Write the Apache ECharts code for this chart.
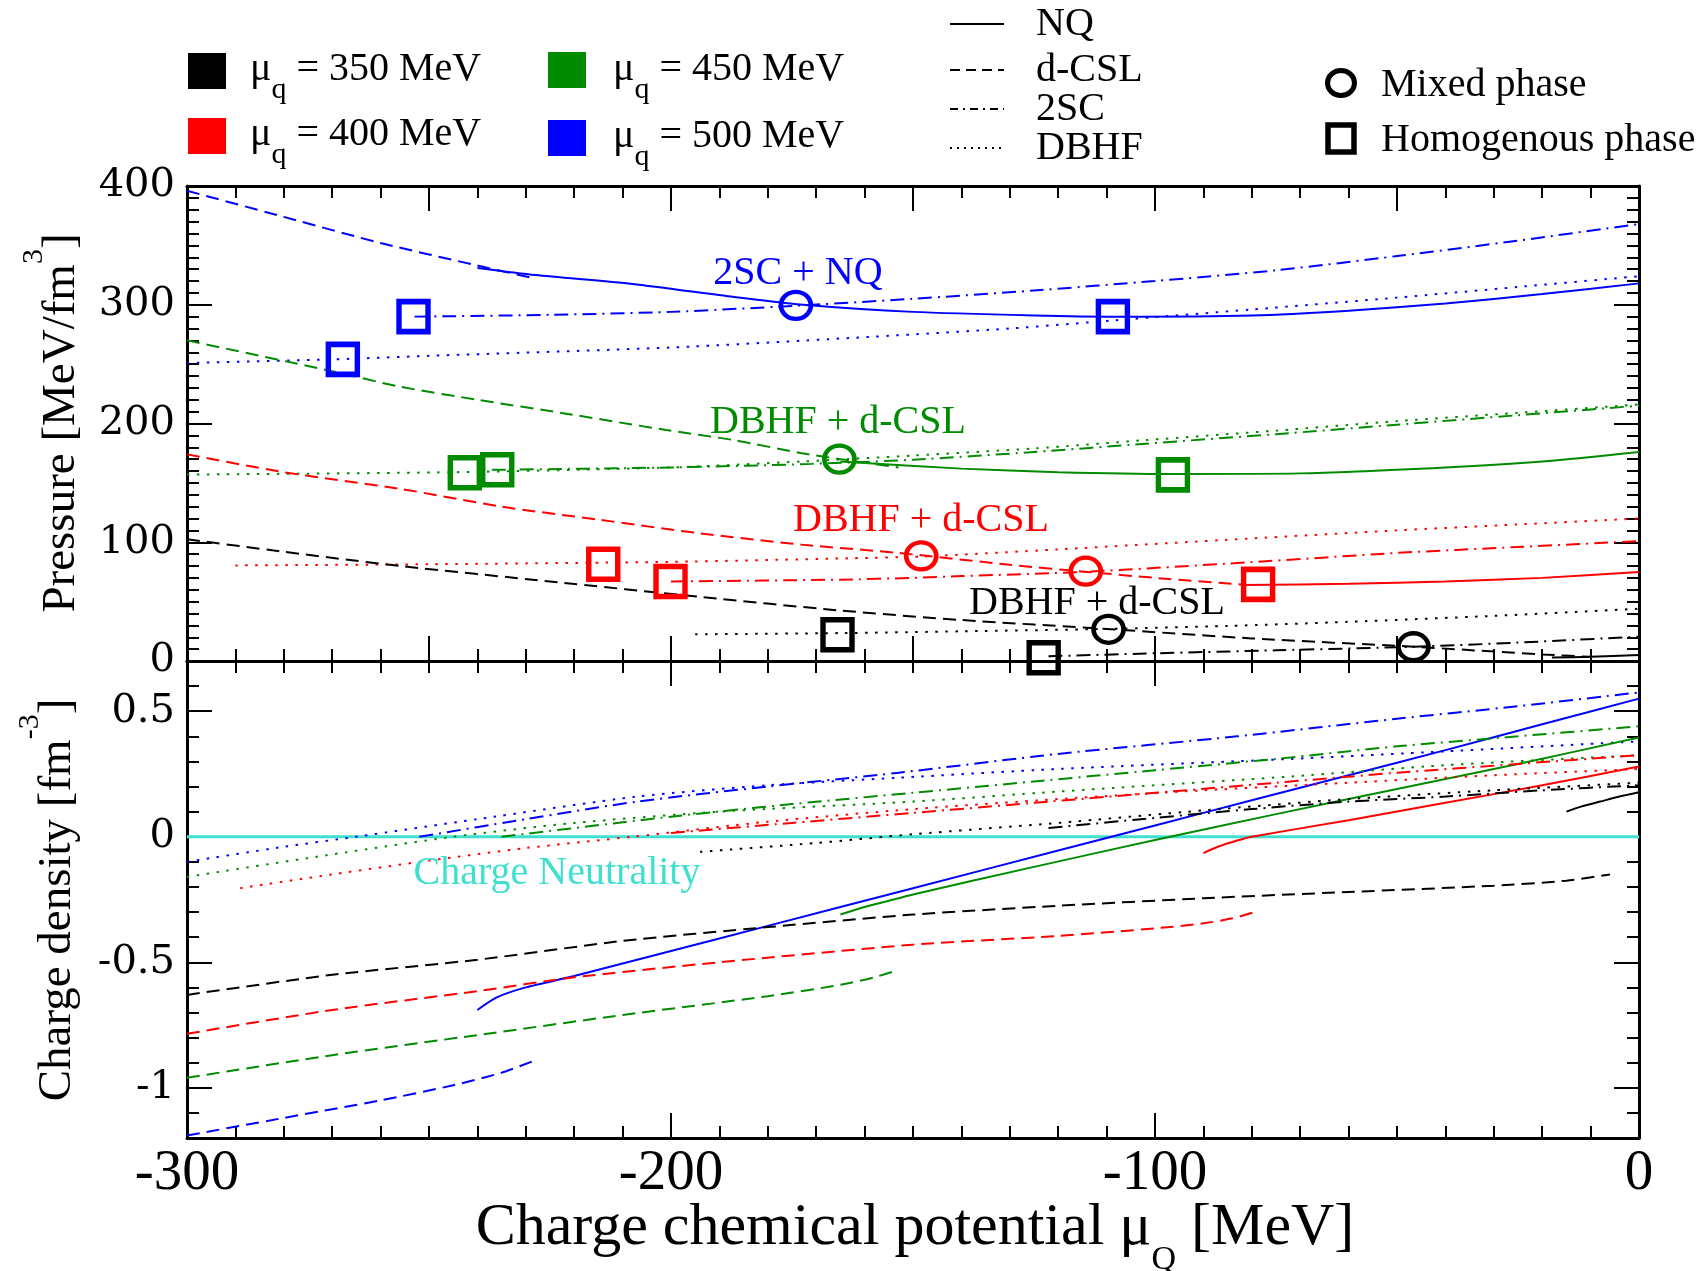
<!DOCTYPE html>
<html>
<head>
<meta charset="utf-8">
<script src="https://cdn.jsdelivr.net/npm/echarts@6/dist/echarts.min.js"></script>
<style>
  html, body { margin: 0; padding: 0; background: #fff; }
  #chart { width: 1708px; height: 1271px; }
</style>
</head>
<body>
<div id="chart"></div>
<script>
// ---------- axis ticks ----------
const xTicks = [-300, -200, -100, 0];
const pTicks = [0, 100, 200, 300, 400];
const qTicks = [-1, -0.5, 0, 0.5];

// ---------- upper panel: pressure [MeV/fm^3] vs mu_Q [MeV] ----------
// mu_q = 500 MeV (blue)
const P500_dCSL = [[-300,396],[-280,374],[-260,352],[-240,333],[-228,322]];
const P500_NQ   = [[-240,331],[-228,325],[-208,317.5],[-187,306.5],[-174,300.5],[-150,294],[-125,291],[-108,290],[-80,291],[-60,295],[-40,301],[-20,309],[0,318]];
const P500_2SC  = [[-253,290],[-225,291.5],[-200,294],[-175,299],[-150,305],[-125,312],[-100,320],[-75,329],[-50,341],[-25,354],[0,368]];
const P500_DBHF = [[-300,251],[-270,254],[-250,257],[-200,264],[-163,272],[-130,280],[-108,287],[-80,296],[-50,306],[-25,315],[0,324]];
// mu_q = 450 MeV (green)
const P450_dCSL = [[-300,270],[-270,244],[-256,231],[-240,220],[-222,208.5],[-201,194.5],[-187,186],[-173,175],[-165,170],[-153,163]];
const P450_NQ   = [[-165,168],[-140,162],[-120,159],[-96,157.5],[-70,158],[-40,163],[-20,168],[0,176]];
const P450_2SC  = [[-237,161],[-200,163],[-171,166],[-150,169.5],[-125,176],[-102,183],[-75,191],[-50,199],[-25,207],[0,215]];
const P450_DBHF = [[-300,157],[-245,159],[-200,163],[-173,168],[-150,173],[-125,179],[-102,186],[-75,194],[-50,202],[-25,209],[0,216]];
// mu_q = 400 MeV (red)
const P400_dCSL = [[-300,174],[-280,159],[-256,145],[-235,130],[-215,119],[-194,107.5],[-173,98],[-153,91],[-130,81],[-114,75],[-100,70],[-81,64]];
const P400_NQ   = [[-82,64],[-60,65],[-40,67],[-20,70],[0,75]];
const P400_2SC  = [[-200,67],[-165,68.5],[-150,70],[-140,71.5],[-115,75],[-81,83],[-50,91],[-25,96],[0,101]];
const P400_DBHF = [[-290,80.5],[-250,81.5],[-200,83.5],[-163,86.5],[-148,88],[-120,94],[-81,103],[-50,110],[-25,115],[0,120]];
// mu_q = 350 MeV (black)
const P350_dCSL = [[-300,102.5],[-280,92],[-256,80],[-225,67],[-194,54],[-165,42.5],[-140,34.5],[-110,27],[-80,19],[-46.5,12],[-20,5.5],[-10,3.5]];
const P350_NQ   = [[-18,3],[-10,3.5],[0,5]];
const P350_2SC  = [[-122,4],[-100,6.5],[-75,9],[-46.5,12],[-25,15.5],[0,20.5]];
const P350_DBHF = [[-195,22.5],[-165,23.5],[-140,25],[-110,27],[-85,29.5],[-60,33],[-30,38],[0,44]];

// phase markers (upper panel)
const mixed500 = [[-174.2,299.5]];
const homog500 = [[-253.2,290],[-267.8,254],[-108.7,290]];
const mixed450 = [[-165.2,170]];
const homog450 = [[-242.6,158.5],[-235.9,161],[-96.3,156.7]];
const mixed400 = [[-148.3,88.5],[-114.3,75.6]];
const homog400 = [[-214,81.5],[-200.1,67],[-78.7,64.5]];
const mixed350 = [[-109.6,26.7],[-46.6,12]];
const homog350 = [[-165.6,22.1],[-123,2.8]];

// ---------- lower panel: charge density [fm^-3] vs mu_Q [MeV] ----------
const Q500_NQ   = [[-240,-0.69],[-236,-0.64],[-230,-0.60],[-220,-0.555],[-200,-0.455],[-180,-0.355],[-150,-0.205],[-120,-0.055],[-100,0.045],[-80,0.145],[-60,0.245],[-40,0.345],[-20,0.448],[0,0.55]];
const Q500_dCSL = [[-300,-1.19],[-280,-1.12],[-260,-1.05],[-245,-0.99],[-235,-0.94],[-228,-0.89]];
const Q500_2SC  = [[-252,0.0],[-230,0.07],[-207,0.14],[-180,0.2],[-153,0.255],[-120,0.33],[-83,0.40],[-50,0.47],[-25,0.52],[0,0.575]];
const Q500_DBHF = [[-300,-0.10],[-280,-0.04],[-265,0.0],[-240,0.07],[-207,0.16],[-180,0.205],[-153,0.235],[-120,0.27],[-72,0.31],[-40,0.34],[0,0.38]];

const Q450_NQ   = [[-165,-0.31],[-160,-0.28],[-155,-0.255],[-150,-0.23],[-125,-0.12],[-100,-0.013],[-75,0.09],[-50,0.19],[-25,0.29],[0,0.395]];
const Q450_dCSL = [[-300,-0.96],[-270,-0.87],[-240,-0.79],[-210,-0.71],[-180,-0.635],[-165,-0.59],[-158,-0.56],[-153,-0.53]];
const Q450_2SC  = [[-235,0.0],[-200,0.08],[-175,0.13],[-150,0.175],[-125,0.22],[-100,0.265],[-75,0.31],[-50,0.36],[-25,0.40],[0,0.44]];
const Q450_DBHF = [[-300,-0.16],[-275,-0.085],[-245,0.0],[-220,0.055],[-190,0.10],[-150,0.14],[-120,0.18],[-72,0.24],[-40,0.285],[0,0.325]];

const Q400_NQ   = [[-90,-0.065],[-87,-0.04],[-83,-0.015],[-80,0.0],[-60,0.066],[-40,0.135],[-20,0.205],[0,0.28]];
const Q400_dCSL = [[-300,-0.785],[-270,-0.69],[-240,-0.615],[-220,-0.56],[-190,-0.50],[-150,-0.43],[-120,-0.395],[-100,-0.365],[-90,-0.345],[-84,-0.325],[-79,-0.298]];
const Q400_2SC  = [[-200,0.015],[-175,0.055],[-150,0.095],[-125,0.135],[-100,0.175],[-75,0.215],[-50,0.255],[-25,0.29],[0,0.325]];
const Q400_DBHF = [[-289,-0.205],[-270,-0.15],[-250,-0.095],[-230,-0.045],[-208,0.0],[-180,0.06],[-150,0.11],[-120,0.15],[-90,0.185],[-60,0.215],[-30,0.245],[0,0.27]];

const Q350_NQ   = [[-15,0.10],[-12,0.12],[-8,0.14],[-4,0.16],[0,0.177]];
const Q350_dCSL = [[-300,-0.63],[-270,-0.55],[-240,-0.49],[-210,-0.415],[-180,-0.36],[-150,-0.31],[-120,-0.275],[-90,-0.245],[-60,-0.22],[-30,-0.195],[-15,-0.175],[-6,-0.15]];
const Q350_2SC  = [[-122,0.035],[-100,0.075],[-80,0.11],[-60,0.14],[-40,0.16],[-20,0.185],[0,0.205]];
const Q350_DBHF = [[-194,-0.06],[-170,-0.025],[-150,0.01],[-120,0.055],[-90,0.105],[-60,0.15],[-30,0.185],[0,0.215]];

const neutrality = [[-300,0],[0,0]];

// ---------- styling ----------
const C350 = '#000000', C400 = '#ff0000', C450 = '#008b00', C500 = '#0000ff', CTURQ = '#40e0d0';
const DASH = { NQ: 'solid', dCSL: [13, 7], SC: [14, 6, 2, 6], DBHF: [2.5, 7.5] };
const SERIF = 'Liberation Serif';
const MAJOR_TICK = 25, MINOR_TICK = 12;

function curve(data, color, dash, lower) {
  return {
    type: 'line', data: data, xAxisIndex: lower ? 3 : 0, yAxisIndex: lower ? 2 : 0,
    showSymbol: false, symbol: 'none', smooth: 0.25,
    lineStyle: { color: color, width: 2, type: dash, cap: 'butt', opacity: 1 },
    silent: true, z: 3
  };
}
function markers(data, color, shape) {
  const circ = shape === 'circle';
  return {
    type: 'scatter', data: data, xAxisIndex: 0, yAxisIndex: 0,
    symbol: circ ? 'circle' : 'rect', symbolSize: circ ? [30, 27] : [29, 30],
    itemStyle: { color: 'rgba(0,0,0,0)', borderColor: color, borderWidth: circ ? 4.5 : 5.5, opacity: 1 },
    silent: true, z: 6, clip: false
  };
}

const series = [
  Object.assign(curve(neutrality, CTURQ, 'solid', true), { lineStyle: { color: CTURQ, width: 3 }, z: 2, smooth: false }),
  curve(P500_dCSL, C500, DASH.dCSL), curve(P500_NQ, C500, DASH.NQ), curve(P500_2SC, C500, DASH.SC), curve(P500_DBHF, C500, DASH.DBHF),
  curve(P450_dCSL, C450, DASH.dCSL), curve(P450_NQ, C450, DASH.NQ), curve(P450_2SC, C450, DASH.SC), curve(P450_DBHF, C450, DASH.DBHF),
  curve(P400_dCSL, C400, DASH.dCSL), curve(P400_NQ, C400, DASH.NQ), curve(P400_2SC, C400, DASH.SC), curve(P400_DBHF, C400, DASH.DBHF),
  curve(P350_dCSL, C350, DASH.dCSL), curve(P350_NQ, C350, DASH.NQ), curve(P350_2SC, C350, DASH.SC), curve(P350_DBHF, C350, DASH.DBHF),
  curve(Q500_dCSL, C500, DASH.dCSL, true), curve(Q500_NQ, C500, DASH.NQ, true), curve(Q500_2SC, C500, DASH.SC, true), curve(Q500_DBHF, C500, DASH.DBHF, true),
  curve(Q450_dCSL, C450, DASH.dCSL, true), curve(Q450_NQ, C450, DASH.NQ, true), curve(Q450_2SC, C450, DASH.SC, true), curve(Q450_DBHF, C450, DASH.DBHF, true),
  curve(Q400_dCSL, C400, DASH.dCSL, true), curve(Q400_NQ, C400, DASH.NQ, true), curve(Q400_2SC, C400, DASH.SC, true), curve(Q400_DBHF, C400, DASH.DBHF, true),
  curve(Q350_dCSL, C350, DASH.dCSL, true), curve(Q350_NQ, C350, DASH.NQ, true), curve(Q350_2SC, C350, DASH.SC, true), curve(Q350_DBHF, C350, DASH.DBHF, true),
  markers(mixed500, C500, 'circle'), markers(homog500, C500, 'rect'),
  markers(mixed450, C450, 'circle'), markers(homog450, C450, 'rect'),
  markers(mixed400, C400, 'circle'), markers(homog400, C400, 'rect'),
  markers(mixed350, C350, 'circle'), markers(homog350, C350, 'rect')
];

// ---------- axes ----------
const frameLine = { show: true, onZero: false, lineStyle: { color: '#000', width: 3 } };
const tickStyle = { color: '#000', width: 2 };
function xAx(grid, pos, interval, minorSplit, showLabel) {
  return {
    type: 'value', gridIndex: grid, position: pos, min: -300, max: 0, interval: interval,
    axisLine: frameLine, splitLine: { show: false },
    axisTick: { show: true, inside: true, length: MAJOR_TICK, lineStyle: tickStyle },
    minorTick: { show: true, splitNumber: minorSplit, length: MINOR_TICK, lineStyle: tickStyle },
    axisLabel: showLabel ? {
      show: true, margin: 8, color: '#000', fontFamily: SERIF, fontSize: 57,
      customValues: xTicks
    } : { show: false }
  };
}
const yAxes = [
  { // upper left
    type: 'value', gridIndex: 0, position: 'left', min: 0, max: 400, interval: 100,
    axisLine: frameLine, splitLine: { show: false },
    axisTick: { show: true, inside: true, length: MAJOR_TICK, lineStyle: tickStyle },
    minorTick: { show: true, splitNumber: 10, length: MINOR_TICK, lineStyle: tickStyle },
    axisLabel: { show: true, margin: 12, color: '#000', fontFamily: 'DejaVu Serif', fontSize: 40, customValues: pTicks }
  },
  { // upper right
    type: 'value', gridIndex: 0, position: 'right', min: 0, max: 400, interval: 100,
    axisLine: frameLine, splitLine: { show: false },
    axisTick: { show: true, inside: true, length: MAJOR_TICK, lineStyle: tickStyle },
    minorTick: { show: true, splitNumber: 10, length: MINOR_TICK, lineStyle: tickStyle },
    axisLabel: { show: false }
  },
  { // lower left (minor ticks every 0.1, labels at 0.5 steps)
    type: 'value', gridIndex: 1, position: 'left', min: -1.2, max: 0.7, interval: 0.1,
    axisLine: frameLine, splitLine: { show: false },
    axisTick: { show: true, inside: true, length: MINOR_TICK, lineStyle: tickStyle },
    axisLabel: {
      show: true, margin: 12, color: '#000', fontFamily: 'DejaVu Serif', fontSize: 40,
      formatter: function (v) {
        const r = Math.round(v * 10) / 10;
        for (const t of qTicks) { if (Math.abs(t - r) < 1e-6) return String(t); }
        return '';
      }
    }
  },
  { // lower right
    type: 'value', gridIndex: 1, position: 'right', min: -1.2, max: 0.7, interval: 0.1,
    axisLine: frameLine, splitLine: { show: false },
    axisTick: { show: true, inside: true, length: MINOR_TICK, lineStyle: tickStyle },
    axisLabel: { show: false }
  },
  { // lower left major ticks
    type: 'value', gridIndex: 1, position: 'left', min: -1.2, max: 0.7, splitNumber: 4,
    axisLine: { show: false, onZero: false }, splitLine: { show: false },
    axisTick: { show: true, inside: true, length: MAJOR_TICK, customValues: qTicks, lineStyle: tickStyle },
    axisLabel: { show: false }
  },
  { // lower right major ticks
    type: 'value', gridIndex: 1, position: 'right', min: -1.2, max: 0.7, splitNumber: 4,
    axisLine: { show: false, onZero: false }, splitLine: { show: false },
    axisTick: { show: true, inside: true, length: MAJOR_TICK, customValues: qTicks, lineStyle: tickStyle },
    axisLabel: { show: false }
  }
];

// ---------- legend & annotations (graphic) ----------
function rtext(x, y, text, rich, opts) {
  opts = opts || {};
  return Object.assign({
    type: 'text', x: x, y: y, z: 100,
    style: {
      text: text, rich: rich, fill: opts.fill || '#000',
      align: opts.align || 'left', verticalAlign: 'middle',
      textAlign: opts.align || 'left', textVerticalAlign: 'middle',
      fontFamily: SERIF, fontSize: opts.fontSize || 40
    }
  }, opts.rotation ? { rotation: opts.rotation } : {});
}
function ptext(x, y, text, fill, align) {
  return {
    type: 'text', x: x, y: y, z: 100,
    style: {
      text: text, fill: fill || '#000', fontFamily: SERIF, fontSize: 40,
      align: align || 'left', verticalAlign: 'middle',
      textAlign: align || 'left', textVerticalAlign: 'middle'
    }
  };
}
const subRich = {
  m: { fontFamily: SERIF, fontSize: 40, lineHeight: 72 },
  s: { fontFamily: SERIF, fontSize: 30, lineHeight: 28, verticalAlign: 'bottom' }
};
const legendItems = [
  { col: C350, label: '350', sx: 188, sy: 53, tx: 250, ty: 69 },
  { col: C400, label: '400', sx: 188, sy: 118, tx: 250, ty: 134 },
  { col: C450, label: '450', sx: 548, sy: 52, tx: 613, ty: 69 },
  { col: C500, label: '500', sx: 548, sy: 120, tx: 613, ty: 136 }
];
const graphics = [];
legendItems.forEach(function (it) {
  graphics.push({ type: 'rect', z: 100, shape: { x: it.sx, y: it.sy, width: 38, height: 36 }, style: { fill: it.col } });
  graphics.push(rtext(it.tx, it.ty, '{m|μ}{s|q}{m| = ' + it.label + ' MeV}', subRich));
});
const styleItems = [
  { name: 'NQ', dash: null, y: 24 },
  { name: 'd-CSL', dash: [10, 6], y: 70 },
  { name: '2SC', dash: [8, 5, 2, 5], y: 109 },
  { name: 'DBHF', dash: [2, 5], y: 148 }
];
styleItems.forEach(function (it) {
  graphics.push({ type: 'line', z: 100, shape: { x1: 950, y1: it.y, x2: 1004, y2: it.y },
    style: { stroke: '#000', lineWidth: 2, lineDash: it.dash } });
  graphics.push(ptext(1036, it.y, it.name));
});
graphics.push({ type: 'ellipse', z: 100, shape: { cx: 1341, cy: 83, rx: 13.5, ry: 12.5 }, style: { fill: 'none', stroke: '#000', lineWidth: 5 } });
graphics.push(ptext(1381, 85, 'Mixed phase'));
graphics.push({ type: 'rect', z: 100, shape: { x: 1328, y: 125, width: 26, height: 27 }, style: { fill: 'none', stroke: '#000', lineWidth: 5.5 } });
graphics.push(ptext(1381, 140, 'Homogenous phase'));

// in-plot annotations
graphics.push(ptext(798, 273, '2SC + NQ', C500, 'center'));
graphics.push(ptext(838, 422, 'DBHF + d-CSL', C450, 'center'));
graphics.push(ptext(921, 520, 'DBHF + d-CSL', C400, 'center'));
graphics.push(ptext(1097, 603, 'DBHF + d-CSL', C350, 'center'));
graphics.push(ptext(557, 873, 'Charge Neutrality', CTURQ, 'center'));

// axis titles
graphics.push(rtext(915, 1228, '{m|Charge chemical potential μ}{s|Q}{m| [MeV]}', {
  m: { fontFamily: SERIF, fontSize: 60, lineHeight: 98 },
  s: { fontFamily: SERIF, fontSize: 34, lineHeight: 32, verticalAlign: 'bottom' }
}, { align: 'center', fontSize: 60 }));
graphics.push(rtext(62, 423, '{m|Pressure [MeV/fm}{p|3}{m|]}', {
  m: { fontFamily: SERIF, fontSize: 47, lineHeight: 86 },
  p: { fontFamily: SERIF, fontSize: 30, lineHeight: 28, verticalAlign: 'top' }
}, { align: 'center', fontSize: 47, rotation: Math.PI / 2 }));
graphics.push(rtext(58, 900, '{m|Charge density [fm}{p|-3}{m|]}', {
  m: { fontFamily: SERIF, fontSize: 47, lineHeight: 86 },
  p: { fontFamily: SERIF, fontSize: 30, lineHeight: 28, verticalAlign: 'top' }
}, { align: 'center', fontSize: 47, rotation: Math.PI / 2 }));

const chart = echarts.init(document.getElementById('chart'), null, { renderer: 'canvas' });
chart.setOption({
  animation: false,
  backgroundColor: '#ffffff',
  grid: [
    { left: 187, top: 186, width: 1452, height: 475 },
    { left: 187, top: 661, width: 1452, height: 477 }
  ],
  xAxis: [
    xAx(0, 'bottom', 50, 5, false),
    xAx(0, 'top', 50, 5, false),
    xAx(1, 'top', 100, 10, false),
    xAx(1, 'bottom', 100, 10, true)
  ],
  yAxis: yAxes,
  series: series,
  graphic: graphics
});
</script>
</body>
</html>
